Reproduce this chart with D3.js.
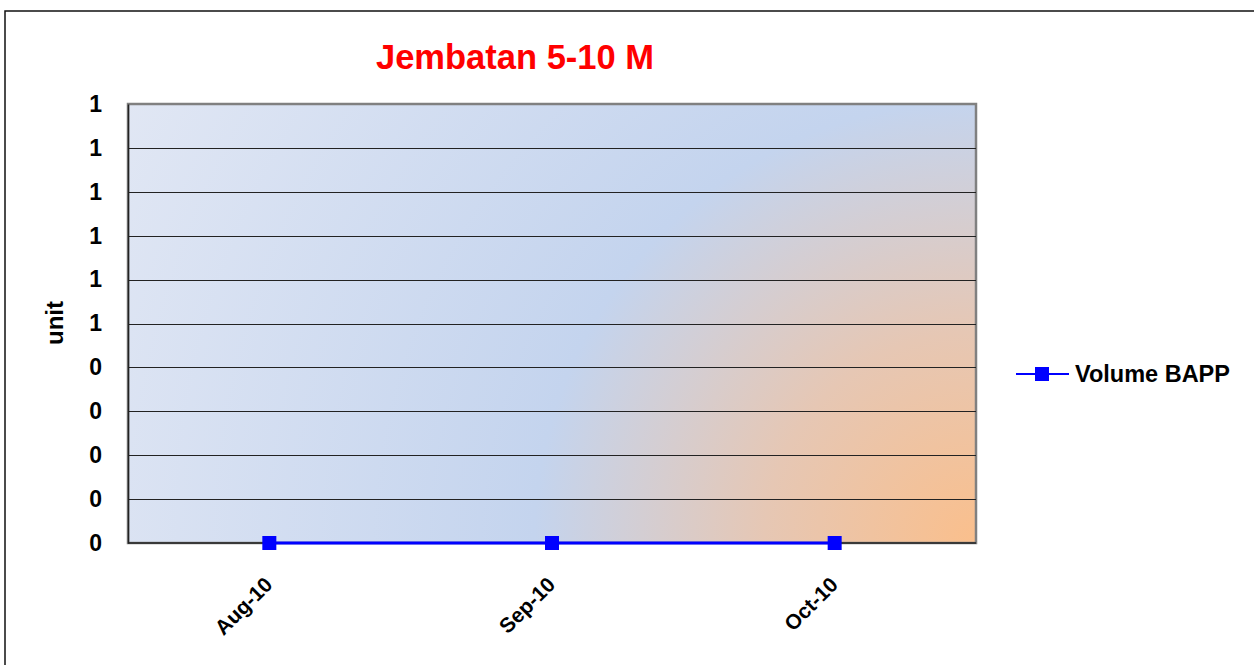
<!DOCTYPE html>
<html>
<head>
<meta charset="utf-8">
<script src="https://cdn.jsdelivr.net/npm/d3@7"></script>
<style>
  body { margin: 0; background: #fff; }
  svg { display: block; font-family: Arial, "Liberation Sans", sans-serif; }
</style>
</head>
<body>
<div id="chart"></div>
<script>
// chart data
const categories = ["Aug-10", "Sep-10", "Oct-10"];
const volumeBAPP = [0, 0, 0];
const yTicks = [0, 0.1, 0.2, 0.3, 0.4, 0.5, 0.6, 0.7, 0.8, 0.9, 1.0];
const yTickLabels = ["0", "0", "0", "0", "0", "1", "1", "1", "1", "1", "1"];
const seriesName = "Volume BAPP";
const chartTitle = "Jembatan 5-10 M";
const yTitle = "unit";

let width = 1254, height = 665;
let plot = {left: 128, right: 976, top: 104, bottom: 543};

let svg = d3.select("#chart").append("svg")
  .attr("width", width)
  .attr("height", height);

let defs = svg.append("defs");
let grad = defs.append("radialGradient")
  .attr("id", "bg")
  .attr("gradientUnits", "userSpaceOnUse")
  .attr("cx", plot.right).attr("cy", plot.bottom)
  .attr("r", 960);
grad.append("stop").attr("offset", 0).attr("stop-color", "#fabf8c");
grad.append("stop").attr("offset", 0.22).attr("stop-color", "#e6c7b4");
grad.append("stop").attr("offset", 0.46).attr("stop-color", "#c4d4ee");
grad.append("stop").attr("offset", 1).attr("stop-color", "#e1e7f4");

// outer frame
svg.append("rect")
  .attr("x", 5).attr("y", 11)
  .attr("width", 1300).attr("height", 700)
  .attr("fill", "none")
  .attr("stroke", "#111")
  .attr("stroke-width", 1.5);

let x = d3.scalePoint()
  .domain(categories)
  .range([plot.left, plot.right])
  .padding(0.5);

let y = d3.scaleLinear()
  .domain([0, 1])
  .range([plot.bottom, plot.top]);

// plot area
svg.append("rect")
  .attr("x", plot.left).attr("y", plot.top)
  .attr("width", plot.right - plot.left)
  .attr("height", plot.bottom - plot.top)
  .attr("fill", "url(#bg)")
  .attr("stroke", "#808080")
  .attr("stroke-width", 2.5);

// gridlines
svg.append("g")
  .selectAll("line")
  .data(yTicks.slice(1, -1))
  .join("line")
  .attr("x1", plot.left).attr("x2", plot.right)
  .attr("y1", d => Math.round(y(d)) + 0.5)
  .attr("y2", d => Math.round(y(d)) + 0.5)
  .attr("stroke", "#222")
  .attr("stroke-width", 1);

// y axis
let yAxis = svg.append("g")
  .attr("transform", `translate(${plot.left},0)`)
  .call(d3.axisLeft(y).tickValues(yTicks).tickSize(0).tickPadding(26)
    .tickFormat((d, i) => yTickLabels[i]));
yAxis.select(".domain").attr("stroke", "#222").attr("stroke-width", 1.5);
yAxis.selectAll("text")
  .attr("font-size", "23px")
  .attr("font-weight", "bold")
  .attr("fill", "#000")
  .attr("font-family", "Arial, 'Liberation Sans', sans-serif");

// x axis
let xAxis = svg.append("g")
  .attr("transform", `translate(0,${plot.bottom})`)
  .call(d3.axisBottom(x).tickSize(0).tickFormat(d => d));
xAxis.select(".domain").attr("stroke", "#222").attr("stroke-width", 1.5)
  .attr("d", `M${plot.left},0H${plot.right}`);
xAxis.selectAll("text")
  .attr("font-size", "21px")
  .attr("font-weight", "bold")
  .attr("fill", "#000")
  .attr("font-family", "Arial, 'Liberation Sans', sans-serif")
  .attr("text-anchor", "end")
  .attr("y", 0).attr("dy", 0)
  .attr("transform", "translate(4,43) rotate(-45)");

// series line
let line = d3.line()
  .x((d, i) => x(categories[i]))
  .y(d => y(d));

svg.append("path")
  .datum(volumeBAPP)
  .attr("d", line)
  .attr("fill", "none")
  .attr("stroke", "#0000ff")
  .attr("stroke-width", 3);

const ms = 14;
svg.append("g")
  .selectAll("rect")
  .data(volumeBAPP)
  .join("rect")
  .attr("x", (d, i) => x(categories[i]) - ms / 2)
  .attr("y", d => y(d) - ms / 2)
  .attr("width", ms).attr("height", ms)
  .attr("fill", "#0000ff");

// title
svg.append("text")
  .attr("x", 515).attr("y", 69)
  .attr("text-anchor", "middle")
  .attr("font-size", "34.5px")
  .attr("font-weight", "bold")
  .attr("fill", "#ff0000")
  .text(chartTitle);

// y title
svg.append("text")
  .attr("transform", "translate(63,323) rotate(-90)")
  .attr("text-anchor", "middle")
  .attr("font-size", "24px")
  .attr("font-weight", "bold")
  .attr("fill", "#000")
  .text(yTitle);

// legend
let legend = svg.append("g").attr("transform", "translate(1016,374)");
legend.append("line")
  .attr("x1", 0).attr("x2", 53)
  .attr("stroke", "#0000ff").attr("stroke-width", 2);
legend.append("rect")
  .attr("x", 26 - ms / 2).attr("y", -ms / 2)
  .attr("width", ms).attr("height", ms)
  .attr("fill", "#0000ff");
legend.append("text")
  .attr("x", 59).attr("y", 8)
  .attr("font-size", "23.5px")
  .attr("font-weight", "bold")
  .attr("fill", "#000")
  .text(seriesName);
</script>
</body>
</html>
